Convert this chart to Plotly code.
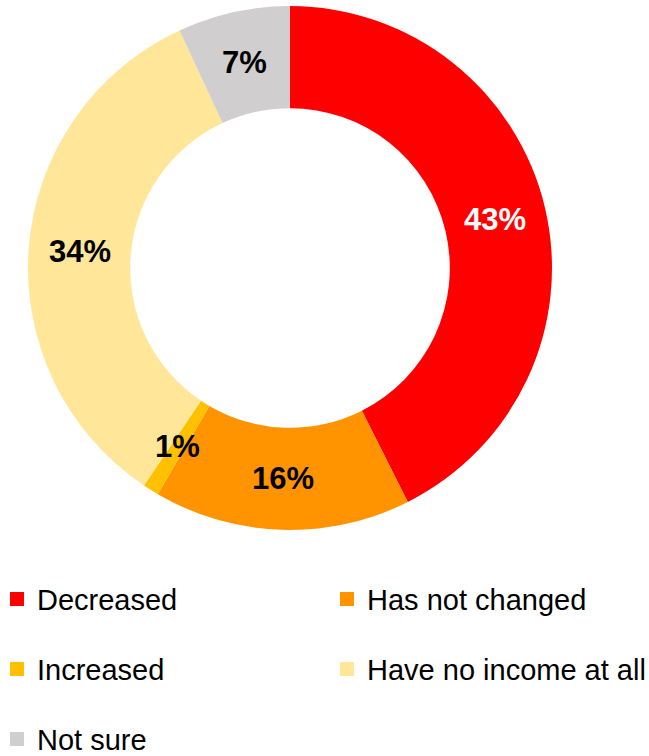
import math
import plotly.graph_objects as go

# Survey answers: how household income has changed
categories = ["Decreased", "Has not changed", "Increased", "Have no income at all", "Not sure"]
shares = [43, 16, 1, 34, 7]
colors = ["#FF0000", "#FF9400", "#FFC000", "#FFE699", "#D0CECE"]
label_colors = ["#FFFFFF", "#000000", "#000000", "#000000", "#000000"]

W, H = 649, 756
CX, CY, R_OUT = 290, 268, 262   # donut centre and outer radius in pixels
HOLE = 0.61
FONT = "Liberation Sans, Arial, sans-serif"
LEGEND_FONT = 29
FIRST_ROW = 599                  # centre of the first legend row
ROW_STEP = 70                    # vertical distance between legend rows

fig = go.Figure(
    go.Pie(
        labels=categories,
        values=shares,
        sort=False,
        direction="clockwise",
        rotation=0,
        hole=HOLE,
        marker=dict(colors=colors, line=dict(width=0)),
        textinfo="none",
        showlegend=False,
        domain=dict(x=[(CX - R_OUT) / W, (CX + R_OUT) / W],
                    y=[1 - (CY + R_OUT) / H, 1 - (CY - R_OUT) / H]),
        hoverinfo="label+value",
    )
)

# Percentage labels at the middle of each ring segment
total = sum(shares)
r_mid = R_OUT * (1 + HOLE) / 2
cum = 0.0
for val, col in zip(shares, label_colors):
    ang = 2 * math.pi * (cum + val / 2) / total
    cum += val
    px = CX + r_mid * math.sin(ang)
    py = CY - r_mid * math.cos(ang)
    fig.add_annotation(
        x=px / W, y=1 - py / H, xref="paper", yref="paper",
        text=f"<b>{val}%</b>", showarrow=False,
        font=dict(family=FONT, size=31, color=col),
        xanchor="center", yanchor="middle",
    )

# Legend in two columns: left column gets items 0, 2, 4; right gets 1, 3
for i, (cat, col) in enumerate(zip(categories, colors)):
    fig.add_trace(
        go.Scatter(
            x=[None], y=[None], mode="markers",
            marker=dict(symbol="square", size=14, color=col),
            name=cat, legendgroup=cat, showlegend=True,
            legend="legend" if i % 2 == 0 else "legend2",
            hoverinfo="skip",
        )
    )

item_h = LEGEND_FONT * 1.3 + 3
legend_common = dict(
    orientation="v",
    yanchor="top",
    y=1 - (FIRST_ROW - item_h / 2 - 5) / H,
    xanchor="left",
    traceorder="grouped",
    tracegroupgap=ROW_STEP - item_h,
    font=dict(family=FONT, size=LEGEND_FONT, color="#000000"),
    bgcolor="rgba(0,0,0,0)",
    borderwidth=0,
)

fig.update_layout(
    width=W,
    height=H,
    margin=dict(l=0, r=0, t=0, b=0, autoexpand=False),
    paper_bgcolor="white",
    plot_bgcolor="white",
    xaxis=dict(visible=False),
    yaxis=dict(visible=False),
    showlegend=True,
    legend=dict(x=-3 / W, **legend_common),
    legend2=dict(x=327 / W, **legend_common),
)

fig.write_html("out.html")
